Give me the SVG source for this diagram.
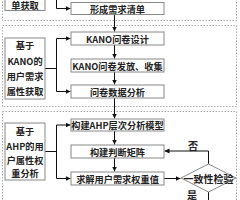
<svg xmlns="http://www.w3.org/2000/svg" width="240" height="200" viewBox="0 0 240 200">
<defs>
<marker id="ah" markerWidth="6" markerHeight="6" refX="5" refY="3" orient="auto" markerUnits="userSpaceOnUse">
<path d="M0,0.5 L5,3 L0,5.5 Z" fill="#111"/>
</marker>
<style>
.sec{fill:none;stroke:#aaa;stroke-width:1;stroke-dasharray:1.5,1.5}
.box{fill:#fff;stroke:#888;stroke-width:1}
.t{font-family:"Noto Sans CJK SC","Noto Sans",sans-serif;font-size:9.2px;font-weight:bold;fill:#222;text-anchor:middle;dominant-baseline:central}
.d{font-size:10px}
.ln{fill:none;stroke:#111;stroke-width:1}
</style>
</defs>
<rect width="240" height="200" fill="#fff"/>
<g id="sections">
<rect class="sec" x="2.5" y="-10" width="234" height="30.5"/>
<rect class="sec" x="2.5" y="25.5" width="234" height="81"/>
<rect class="sec" x="2.5" y="111.5" width="234" height="95"/>
</g>
<g id="connectors">
<path class="ln" d="M56.5,-5 V8.5 H70.5" marker-end="url(#ah)"/>
<path class="ln" d="M114.5,15 V31.5" marker-end="url(#ah)"/>
<path class="ln" d="M114.5,45 V58.5" marker-end="url(#ah)"/>
<path class="ln" d="M114.5,72 V84.5" marker-end="url(#ah)"/>
<path class="ln" d="M114.5,98 V118.5" marker-end="url(#ah)"/>
<path class="ln" d="M114.5,131 V144.5" marker-end="url(#ah)"/>
<path class="ln" d="M114.5,158 V171.5" marker-end="url(#ah)"/>
<path class="ln" d="M45,68.5 H56.5"/>
<path class="ln" d="M56.5,38.5 V91.5"/>
<path class="ln" d="M56.5,38.5 H70.5" marker-end="url(#ah)"/>
<path class="ln" d="M56.5,91.5 H70.5" marker-end="url(#ah)"/>
<path class="ln" d="M45,151.5 H56.5"/>
<path class="ln" d="M56.5,125 V178.5"/>
<path class="ln" d="M56.5,125 H70.5" marker-end="url(#ah)"/>
<path class="ln" d="M56.5,178.5 H70.5" marker-end="url(#ah)"/>
<path class="ln" d="M164,178.5 H180.5" marker-end="url(#ah)"/>
<path class="ln" d="M208.5,164 V151 H164.5" marker-end="url(#ah)"/>
<path class="ln" d="M208.5,192 V205"/>
<text class="t d" x="193" y="145">否</text>
<text class="t d" x="192" y="194">是</text>
</g>
<g id="n0"><rect class="box" x="5" y="-10" width="40" height="20.5"/><text class="t" x="25" y="5">单获取</text></g>
<g id="n1"><rect class="box" x="71" y="2.5" width="93" height="12"/><text class="t" x="117.5" y="8.5">形成需求清单</text></g>
<g id="n2"><rect class="box" x="5" y="38" width="40" height="61"/>
<text class="t" x="25" y="45">基于</text><text class="t" x="25" y="60.5">KANO的</text><text class="t" x="25" y="76">用户需求</text><text class="t" x="25" y="91">属性获取</text></g>
<g id="n3"><rect class="box" x="71" y="32" width="93" height="13"/><text class="t" x="117.5" y="38.5">KANO问卷设计</text></g>
<g id="n4"><rect class="box" x="71" y="59" width="93" height="13"/><text class="t" x="117.5" y="65.5">KANO问卷发放、收集</text></g>
<g id="n5"><rect class="box" x="71" y="85" width="93" height="13"/><text class="t" x="117.5" y="91.5">问卷数据分析</text></g>
<g id="n6"><rect class="box" x="5" y="123" width="40" height="57"/>
<text class="t" x="25" y="131">基于</text><text class="t" x="25" y="145.5">AHP的用</text><text class="t" x="25" y="159.5">户属性权</text><text class="t" x="25" y="173">重分析</text></g>
<g id="n7"><rect class="box" x="71" y="119" width="93" height="12"/><text class="t" x="117.5" y="125">构建AHP层次分析模型</text></g>
<g id="n8"><rect class="box" x="71" y="145" width="93" height="13"/><text class="t" x="117.5" y="151.5">构建判断矩阵</text></g>
<g id="n9"><rect class="box" x="71" y="172" width="93" height="13"/><text class="t" x="117.5" y="178.5">求解用户需求权重值</text></g>
<g id="n10"><polygon class="box" points="181,178 208.5,164 236,178 208.5,192"/><text class="t d" x="208.5" y="178">一致性检验</text></g>
</svg>
